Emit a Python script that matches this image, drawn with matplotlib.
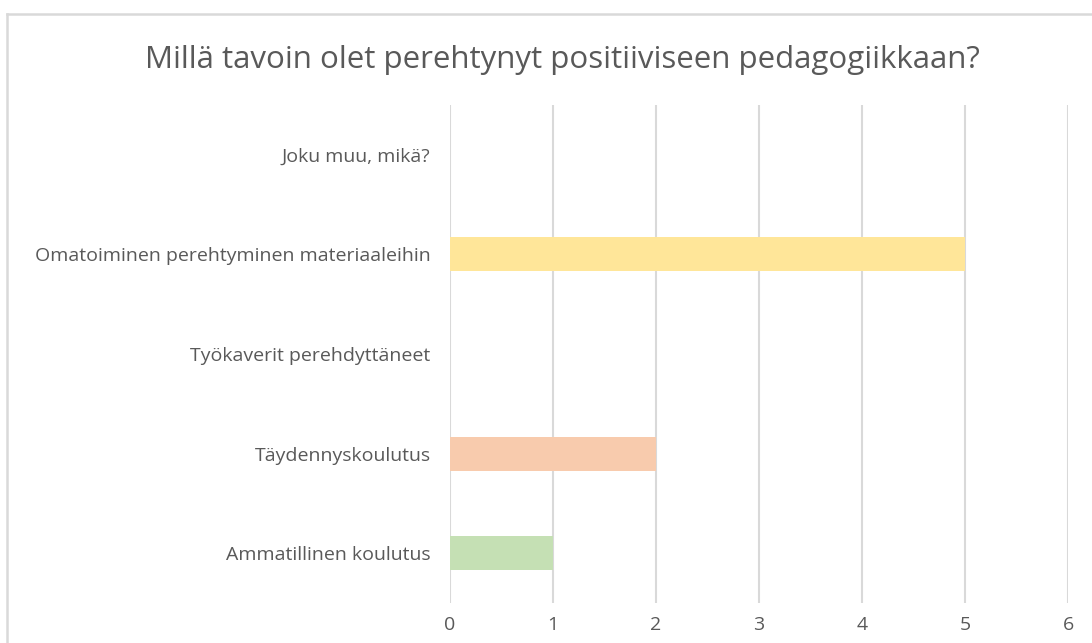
import matplotlib
matplotlib.use("Agg")
import matplotlib.pyplot as plt
from matplotlib.lines import Line2D

categories = ["Ammatillinen koulutus", "Täydennyskoulutus", "Työkaverit perehdyttäneet",
              "Omatoiminen perehtyminen materiaaleihin", "Joku muu, mikä?"]
values = [1, 2, 0, 5, 0]
colors = ["#C5E0B4", "#F8CBAD", "#BDD7EE", "#FFE699", "#B4C7E7"]
xticks = [0, 1, 2, 3, 4, 5, 6]
title = "Millä tavoin olet perehtynyt positiiviseen pedagogiikkaan?"

W, H = 1092, 643
fig = plt.figure(figsize=(W / 100, H / 100), dpi=100)
plt.rcParams['font.family'] = ['Open Sans', 'DejaVu Sans']

left, right, top, bottom = 450, 1068, 105, 603
ax = fig.add_axes([left / W, 1 - bottom / H, (right - left) / W, (bottom - top) / H])

ypos = list(range(len(categories)))
ax.barh(ypos, values, height=0.34, color=colors, zorder=3)
ax.set_xlim(0, 6)
ax.set_ylim(-0.5, len(categories) - 0.5)
ax.set_xticks(xticks)
ax.set_xticklabels([str(t) for t in xticks])
ax.set_yticks(ypos)
ax.set_yticklabels(categories)
for s in ax.spines.values():
    s.set_visible(False)
ax.grid(axis='x', color='#D9D9D9', linewidth=1.5, zorder=0)
ax.tick_params(axis='both', length=0, colors='#595959', labelsize=14)
ax.tick_params(axis='x', pad=9)
ax.tick_params(axis='y', pad=14)

fig.text(562 / W, 1 - 60 / H, title, ha='center', va='center', fontsize=22.5, color='#595959')

# chart border (top and left visible)
fig.add_artist(Line2D([7 / W, 1.0], [1 - 14 / H, 1 - 14 / H], color='#D9D9D9', linewidth=1.8,
                      transform=fig.transFigure))
fig.add_artist(Line2D([7 / W, 7 / W], [1 - 14 / H, 0], color='#D9D9D9', linewidth=1.8,
                      transform=fig.transFigure))

fig.savefig("out.png", dpi=100, facecolor='white')
